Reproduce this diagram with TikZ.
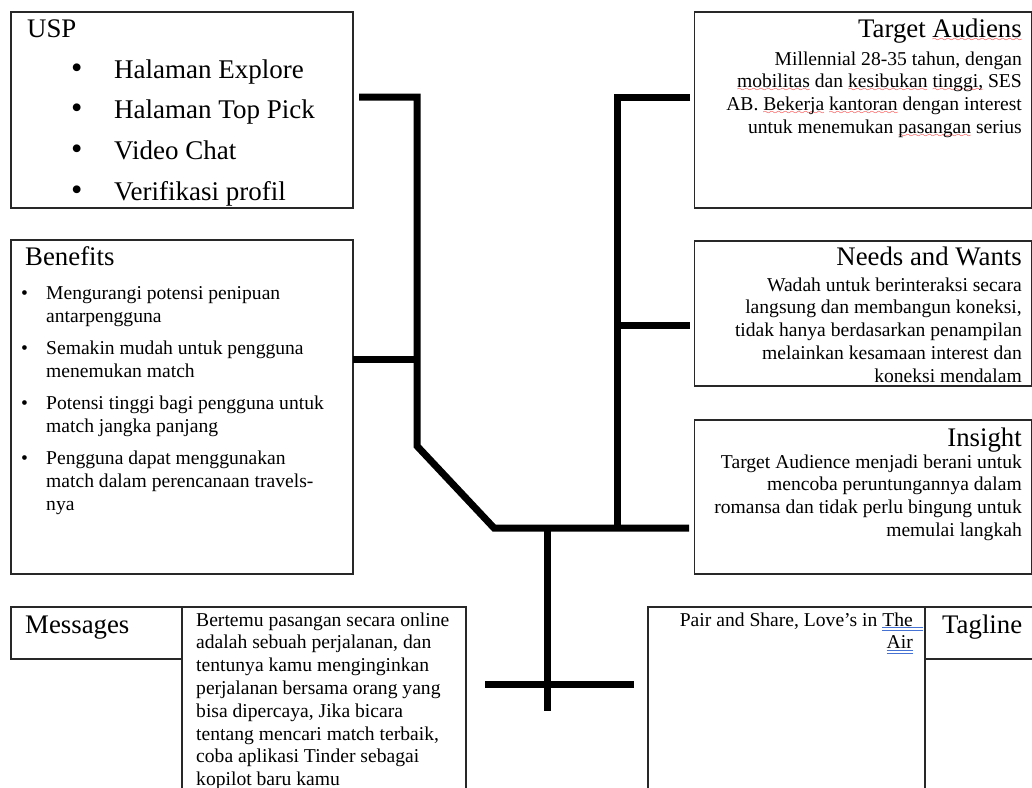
\documentclass[tikz,border=0pt]{standalone}
\usepackage{fontspec}
\setmainfont{Liberation Serif}
\definecolor{linkblue}{RGB}{70,114,212}
\definecolor{boxline}{RGB}{40,40,40}
\font\mywave=lasy6 at 8pt
\newsavebox\wbox
\newcommand\spw[1]{\sbox\wbox{#1}\rlap{\textcolor{red}{\lower4pt\hbox to \wd\wbox{\xleaders\hbox{\mywave\char58}\hfil}}}#1}
\newcommand\lnk[1]{\sbox\wbox{#1}\rlap{\textcolor{linkblue}{\rule[-2.2pt]{\wd\wbox}{1pt}}}\rlap{\textcolor{linkblue}{\rule[-5.4pt]{\wd\wbox}{1pt}}}#1}
\newcommand\lnkext{\rlap{\textcolor{linkblue}{\rule[-2.2pt]{10pt}{1pt}}}\rlap{\textcolor{linkblue}{\rule[-5.4pt]{10pt}{1pt}}}}
\newcommand\rtab[1]{\begin{tabular}[t]{@{}r@{}}#1\end{tabular}}
\newcommand\ltab[1]{\begin{tabular}[t]{@{}l@{}}#1\end{tabular}}
\newcommand\bigbul{\makebox[43pt][l]{\scalebox{1.2}{•}}}
\newcommand\smbul{\makebox[25pt][l]{•}}
\newcommand\smind{\hspace*{25pt}}
\tikzset{
  boxsh/.style={draw=boxline, line width=1.3pt, inner sep=0pt, outer sep=0pt, anchor=north west},
  ttl/.style={font=\fontsize{26.8}{30}\selectfont, inner sep=0pt},
  bodytxt/.style={font=\fontsize{19.6}{22.8}\selectfont, inner sep=0pt},
  benlist/.style={font=\fontsize{19.6}{23.2}\selectfont, inner sep=0pt},
  biglist/.style={font=\fontsize{27}{40.6}\selectfont, inner sep=0pt},
  spine/.style={line width=7pt, line join=miter, line cap=butt, draw=black}
}
\begin{document}
\begin{tikzpicture}[x=1pt,y=-1pt]
\useasboundingbox (0,0) rectangle (1032,787);
\fill[white] (0,0) rectangle (1032,787);
\clip (0,0) rectangle (1032,787);

% boxes
\node[boxsh, minimum width=342pt, minimum height=196pt] (usp) at (11,12) {};
\node[boxsh, minimum width=342pt, minimum height=334pt] (benefits) at (11,240) {};
\node[boxsh, minimum width=337pt, minimum height=196pt] (target) at (694.5,12) {};
\node[boxsh, minimum width=337pt, minimum height=145pt] (needs) at (694.5,241) {};
\node[boxsh, minimum width=337pt, minimum height=154pt] (insight) at (694.5,420) {};
\node[boxsh, minimum width=171pt, minimum height=52pt] (msgL) at (11,607) {};
\node[boxsh, minimum width=284pt, minimum height=200pt] (msgB) at (182,607) {};
\node[boxsh, minimum width=277pt, minimum height=200pt] (pair) at (648,607) {};
\node[boxsh, minimum width=115pt, minimum height=52pt] (tagL) at (925,607) {};

% texts
\node[ttl, anchor=base west] (uspT) at (27,37) {USP};
\node[biglist, anchor=base west] (uspList) at (71,78.3) {\ltab{\bigbul Halaman Explore\\ \bigbul Halaman Top Pick\\ \bigbul Video Chat\\ \bigbul Verifikasi profil}};

\node[ttl, anchor=base west] (benT) at (25,265) {Benefits};
\node[benlist, anchor=base west] (benList) at (21,299.5) {\ltab{\smbul Mengurangi potensi penipuan\\ \smind antarpengguna\\[8.5pt]
\smbul Semakin mudah untuk pengguna\\ \smind menemukan match\\[8.5pt]
\smbul Potensi tinggi bagi pengguna untuk\\ \smind match jangka panjang\\[8.5pt]
\smbul Pengguna dapat menggunakan\\ \smind match dalam perencanaan travels-\\ \smind nya}};

\node[ttl, anchor=base east] (tgtT) at (1022,37) {Target \spw{Audiens}};
\node[bodytxt, anchor=base east] (tgtB) at (1022,65) {\rtab{Millennial 28-35 tahun, dengan\\
\spw{mobilitas} dan \spw{kesibukan} \spw{tinggi,} SES\\
AB. \spw{Bekerja} \spw{kantoran} dengan interest\\
untuk menemukan \spw{pasangan} serius}};

\node[ttl, anchor=base east] (needT) at (1022,265) {Needs and Wants};
\node[bodytxt, anchor=base east] (needB) at (1022,291) {\rtab{Wadah untuk berinteraksi secara\\
langsung dan membangun koneksi,\\
tidak hanya berdasarkan penampilan\\
melainkan kesamaan interest dan\\
koneksi mendalam}};

\node[ttl, anchor=base east] (insT) at (1022,446) {Insight};
\node[bodytxt, anchor=base east] (insB) at (1022,468) {\rtab{Target Audience menjadi berani untuk\\
mencoba peruntungannya dalam\\
romansa dan tidak perlu bingung untuk\\
memulai langkah}};

\node[ttl, anchor=base west] (msgT) at (25,633) {Messages};
\node[bodytxt, anchor=base west] (msgTxt) at (196,626) {\ltab{Bertemu pasangan secara online\\
adalah sebuah perjalanan, dan\\
tentunya kamu menginginkan\\
perjalanan bersama orang yang\\
bisa dipercaya, Jika bicara\\
tentang mencari match terbaik,\\
coba aplikasi Tinder sebagai\\
kopilot baru kamu}};

\node[bodytxt, anchor=base east] (pairTxt) at (913,626) {\rtab{Pair and Share, Love’s in \lnk{The}\lnkext\\ \lnk{Air}}};
\node[ttl, anchor=base west] (tagT) at (942,633) {Tagline};

% spine coordinates
\coordinate (uspout) at (359,97);
\coordinate (lc) at (417,97);
\coordinate (lb) at (417,446);
\coordinate (bl) at (494,528);
\coordinate (bjr) at (689,528);
\coordinate (rtout) at (690,97);
\coordinate (rt) at (617,97);
\coordinate (rb) at (617,528);
\coordinate (nd) at (617,325);
\coordinate (ndout) at (690,325);
\coordinate (bn) at (417,359);
\coordinate (st) at (547,528);
\coordinate (stend) at (547,711);
\coordinate (cl) at (485,684);
\coordinate (cr) at (634,684);

% connectors
\draw[spine] (uspout) -- (lc) -- (lb) -- (bl) -- (bjr);
\draw[spine] (rtout) -- (rt) -- (rb);
\draw[spine] (benefits.east |- bn) -- (bn);
\draw[spine] (nd) -- (ndout);
\draw[spine] (st) -- (stend);
\draw[spine] (cl) -- (cr);
\end{tikzpicture}
\end{document}
